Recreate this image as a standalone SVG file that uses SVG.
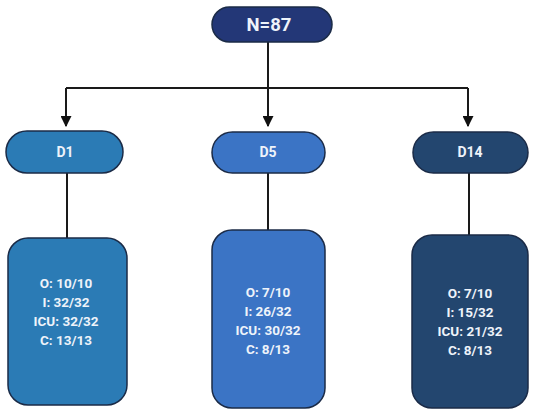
<svg xmlns="http://www.w3.org/2000/svg" width="536" height="413" viewBox="0 0 536 413">
<defs>
<marker id="ah" viewBox="0 0 10 10" refX="9" refY="5" markerWidth="5.5" markerHeight="5.5" orient="auto" markerUnits="strokeWidth">
<path d="M0,0 L10,5 L0,10 z" fill="#111"/>
</marker>
<style>
.lbl{font-family:Roboto,"Liberation Sans",sans-serif;font-weight:bold;fill:#eef3fa;text-anchor:middle}
.edge{stroke:#1a1a1a;stroke-width:2;fill:none}
.shape{stroke:#1b2b47;stroke-width:1.5}
</style>
</defs>
<rect width="536" height="413" fill="#fff"/>
<g id="connectors">
<path class="edge" d="M268,42 V126" marker-end="url(#ah)"/>
<path class="edge" d="M66,88 H468"/>
<path class="edge" d="M66,88 V126" marker-end="url(#ah)"/>
<path class="edge" d="M468,88 V126" marker-end="url(#ah)"/>
<path class="edge" d="M67,173 V238"/>
<path class="edge" d="M268,173 V230"/>
<path class="edge" d="M469,173 V235"/>
</g>
<g id="n87">
<rect class="shape" x="212" y="7" width="120" height="35" rx="17.5" fill="#233777"/>
<text class="lbl" x="269" y="31" font-size="18.5">N=87</text>
</g>
<g id="d1">
<rect class="shape" x="6" y="131" width="117" height="42" rx="21" fill="#2b7bb5"/>
<text class="lbl" x="65" y="157" font-size="14">D1</text>
</g>
<g id="d5">
<rect class="shape" x="212" y="132" width="113" height="41" rx="20.5" fill="#3b74c5"/>
<text class="lbl" x="268" y="157" font-size="14">D5</text>
</g>
<g id="d14">
<rect class="shape" x="413" y="132" width="115" height="41" rx="20.5" fill="#23466f"/>
<text class="lbl" x="470" y="157" font-size="14">D14</text>
</g>
<g id="box1">
<rect class="shape" x="8" y="238" width="119" height="167" rx="20" fill="#2b7bb5"/>
<text class="lbl" font-size="13.5"><tspan x="66" y="288">O: 10/10</tspan><tspan x="66" y="307">I: 32/32</tspan><tspan x="66" y="326">ICU: 32/32</tspan><tspan x="66" y="345">C: 13/13</tspan></text>
</g>
<g id="box5">
<rect class="shape" x="212" y="230" width="113" height="178" rx="20" fill="#3b74c5"/>
<text class="lbl" font-size="13.5"><tspan x="268" y="297">O: 7/10</tspan><tspan x="268" y="316">I: 26/32</tspan><tspan x="268" y="335">ICU: 30/32</tspan><tspan x="268" y="354">C: 8/13</tspan></text>
</g>
<g id="box14">
<rect class="shape" x="412" y="235" width="116" height="173" rx="20" fill="#23466f"/>
<text class="lbl" font-size="13.5"><tspan x="470" y="298">O: 7/10</tspan><tspan x="470" y="317">I: 15/32</tspan><tspan x="470" y="336">ICU: 21/32</tspan><tspan x="470" y="355">C: 8/13</tspan></text>
</g>
</svg>
